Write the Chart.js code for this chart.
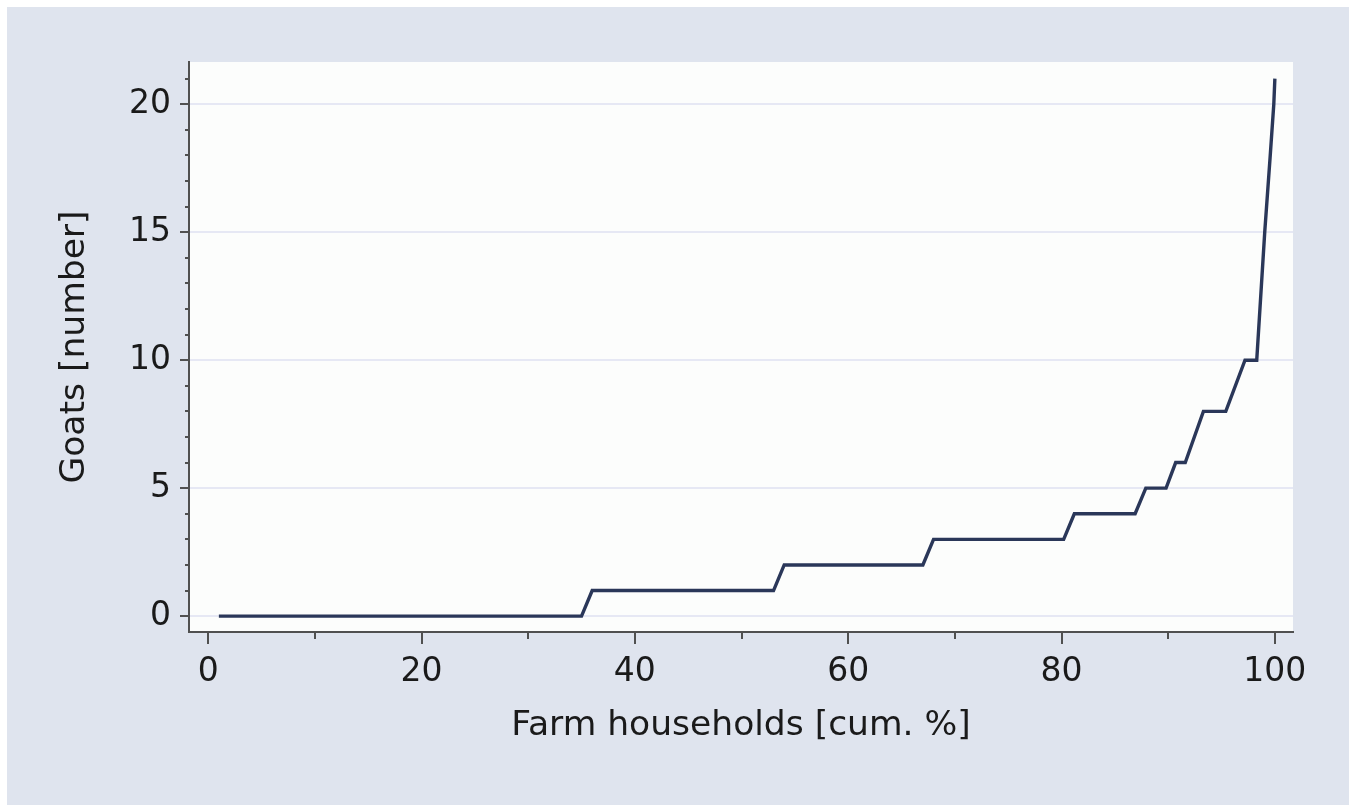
<!DOCTYPE html>
<html>
<head>
<meta charset="utf-8">
<script src="https://cdn.jsdelivr.net/npm/chart.js@4"></script>
<style>
  html, body { margin: 0; padding: 0; background: #ffffff; overflow: hidden; }
  #wrap { position: absolute; left: 7px; top: 7px; width: 1342px; height: 798px; background: #dfe4ee; }
</style>
</head>
<body>
<div id="wrap"><canvas id="myChart" width="1342" height="798"></canvas></div>
<script>
// cumulative share of farm households (%) and goats owned
const householdsPct = [1, 35, 36, 53, 54, 67, 68, 80.2, 81.2, 86.9, 87.9, 89.8, 90.7, 91.6, 93.3, 95.4, 97.2, 98.3, 99.05, 99.55, 99.9, 100];
const goats         = [0, 0, 1, 1, 2, 2, 3, 3, 4, 4, 5, 5, 6, 6, 8, 8, 10, 10, 15, 17.9, 20, 21];

const xTitle = 'Farm households [cum. %]';
const yTitle = 'Goats [number]';

const xMajor = 20, xMinor = 10;
const yMajor = 5, yMinor = 1;

const fontFam = '"DejaVu Sans", Verdana, sans-serif';
const axisColor = '#505050';

var ctx = document.getElementById('myChart').getContext('2d');

// fills plot area
const plotBg = {
  id: 'plotBg',
  beforeDraw(chart) {
    const a = chart.chartArea, c = chart.ctx;
    c.save();
    c.fillStyle = '#fcfdfc';
    c.fillRect(a.left, a.top, a.right - a.left, a.bottom - a.top);
    c.restore();
  }
};

// outward tick marks, long on major steps and short on minor ones
const tickMarks = {
  id: 'tickMarks',
  afterDraw(chart) {
    const c = chart.ctx;
    const xs = chart.scales.x, ys = chart.scales.y;
    c.save();
    c.strokeStyle = axisColor;
    c.lineWidth = 2;
    c.beginPath();
    for (let v = Math.ceil(xs.min / xMinor) * xMinor; v <= xs.max; v += xMinor) {
      const px = Math.round(xs.getPixelForValue(v));
      const len = (v % xMajor === 0) ? 11 : 6;
      c.moveTo(px, xs.top + 1);
      c.lineTo(px, xs.top + 1 + len);
    }
    for (let v = Math.ceil(ys.min / yMinor) * yMinor; v <= ys.max; v += yMinor) {
      const py = Math.round(ys.getPixelForValue(v));
      const len = (v % yMajor === 0) ? 9 : 4;
      c.moveTo(ys.right, py);
      c.lineTo(ys.right - len, py);
    }
    c.stroke();
    c.restore();
  }
};

var config = {
  type: 'line',
  data: {
    datasets: [{
      label: yTitle,
      data: householdsPct.map((x, i) => ({ x: x, y: goats[i] })),
      borderColor: '#2a3759',
      borderWidth: 3.4,
      tension: 0,
      pointRadius: 0,
      fill: false
    }]
  },
  options: {
    responsive: false,
    animation: false,
    layout: { padding: { left: 0, top: 55, right: 56, bottom: 0 } },
    plugins: {
      legend: { display: false },
      tooltip: { enabled: false }
    },
    scales: {
      x: {
        type: 'linear',
        min: -1.8,
        max: 101.7,
        afterFit(scale) { scale.height = 173; },
        grid: { display: false, drawTicks: false },
        border: { display: true, color: axisColor, width: 2 },
        ticks: {
          stepSize: xMajor,
          includeBounds: false,
          padding: 21,
          color: '#1a1a1a',
          font: { family: fontFam, size: 33 }
        },
        title: {
          display: true,
          text: xTitle,
          color: '#1a1a1a',
          padding: { top: 0, bottom: 58 },
          font: { family: fontFam, size: 34.5 }
        }
      },
      y: {
        type: 'linear',
        min: -0.62,
        max: 21.65,
        afterFit(scale) { scale.width = 182; },
        grid: { color: '#e6e8f4', lineWidth: 2, drawTicks: false },
        border: { display: true, color: axisColor, width: 2 },
        ticks: {
          stepSize: yMajor,
          includeBounds: false,
          padding: 18,
          color: '#1a1a1a',
          font: { family: fontFam, size: 33 }
        },
        title: {
          display: true,
          text: yTitle,
          color: '#1a1a1a',
          padding: { top: 47, bottom: 0 },
          font: { family: fontFam, size: 34.5 }
        }
      }
    }
  },
  plugins: [plotBg, tickMarks]
};

var chart = new Chart(ctx, config);
</script>
</body>
</html>
